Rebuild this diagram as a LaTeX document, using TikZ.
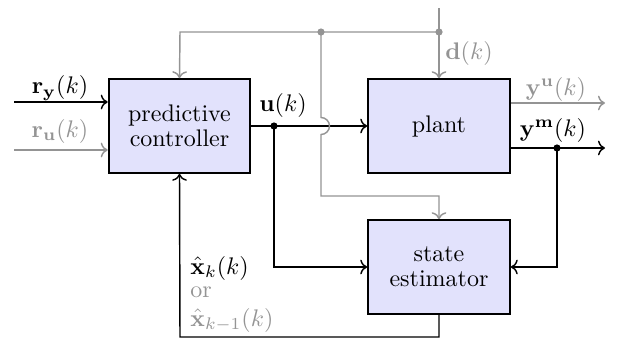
\documentclass[tikz,border=0pt]{standalone}
\usepackage{amsmath}
\usetikzlibrary{arrows.meta}
\definecolor{boxfill}{RGB}{226,226,252}
\colorlet{sig}{black!42}
\begin{document}
\begin{tikzpicture}[x=0.4167pt,y=-0.4167pt,
  blk/.style={draw=black,line width=0.8pt,fill=boxfill,minimum width=59pt,minimum height=39pt,inner sep=0pt,align=center},
  wire/.style={line width=0.6pt},
  gwire/.style={line width=0.6pt,draw=sig},
  dotb/.style={circle,fill=black,inner sep=0pt,minimum size=3pt},
  dotg/.style={circle,fill=sig,inner sep=0pt,minimum size=3pt},
  lbl/.style={inner sep=0pt},
  >=To]
\useasboundingbox (0,0) rectangle (620,338);
% blocks
\node[blk] (ctrl) at (179.5,126) {predictive\\[-1.6pt]controller};
\node[blk] (plant) at (439,126) {plant};
\node[blk] (est) at (439,267) {state\\[-1.6pt]estimator};
% coordinates
\coordinate (ryin) at (14,102);
\coordinate (ruin) at (14,150);
\coordinate (uk) at (274,126);
\coordinate (dtop) at (439,8);
\coordinate (dR) at (439,32);
\coordinate (dL) at (321,32);
\coordinate (ctop) at (180,32);
\coordinate (yuout) at (605,103);
\coordinate (ymout) at (605,148);
\coordinate (ym) at (557,148);
\coordinate (bot) at (439,337);
\coordinate (botL) at (180,337);
% inputs
\draw[wire,->] (ryin) -- (ryin -| ctrl.west);
\draw[gwire,->] (ruin) -- (ruin -| ctrl.west);
% u(k)
\draw[wire,->] (uk -| ctrl.east) -- (uk -| plant.west);
\draw[wire,->] (uk) -- (uk |- est.west) -- (est.west);
% disturbance
\draw[gwire,->] (dtop) -- (plant.north);
\draw[gwire,->] (dR) -- (ctop) -- (ctrl.north);
\draw[gwire,->] (dL) -- (321,117.5) arc (90:-90:3.54pt) -- (321,196) -- (439,196) -- (est.north);
% outputs
\draw[gwire,->] (plant.east |- yuout) -- (yuout);
\draw[wire,->] (plant.east |- ymout) -- (ymout);
\draw[wire,->] (ym) -- (ym |- est.east) -- (est.east);
% feedback
\draw[wire,->] (est.south) -- (bot) -- (botL) -- (ctrl.south);
% dots
\node[dotb] at (uk) {};
\node[dotb] at (ym) {};
\node[dotg] at (dR) {};
\node[dotg] at (dL) {};
% labels
\node[lbl] (lry) at (60,88) {$\mathbf{r}_{\mathbf{y}}(k)$};
\node[lbl,text=sig] (lru) at (60,131) {$\mathbf{r}_{\mathbf{u}}(k)$};
\node[lbl] (lu) at (283,105) {$\mathbf{u}(k)$};
\node[lbl,text=sig] (ld) at (469,53) {$\mathbf{d}(k)$};
\node[lbl,text=sig] (lyu) at (556,89) {$\mathbf{y}^{\mathbf{u}}(k)$};
\node[lbl] (lym) at (553,130) {$\mathbf{y}^{\mathbf{m}}(k)$};
\node[lbl,anchor=west] (lxk) at (190,268) {$\hat{\mathbf{x}}_k(k)$};
\node[lbl,anchor=west,text=sig] (lor) at (190,292) {or};
\node[lbl,anchor=west,text=sig] (lxk1) at (190,320) {$\hat{\mathbf{x}}_{k-1}(k)$};
\end{tikzpicture}
\end{document}
